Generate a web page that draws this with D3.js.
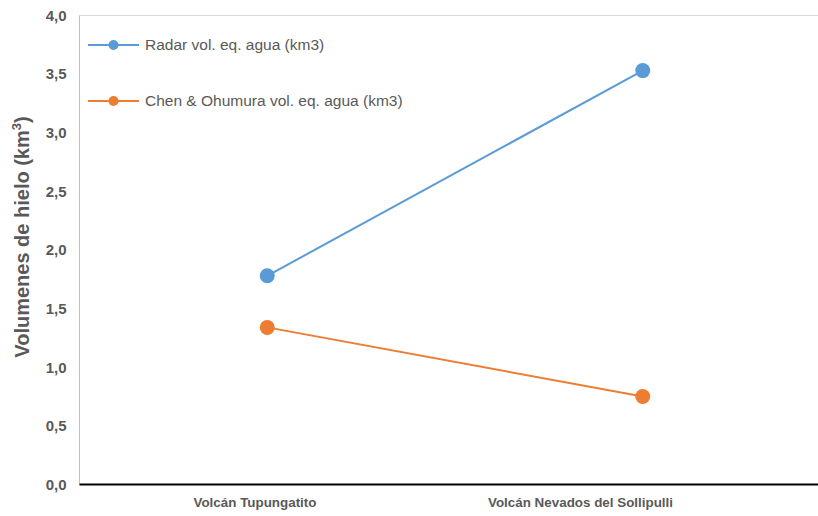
<!DOCTYPE html>
<html>
<head>
<meta charset="utf-8">
<script src="https://cdn.jsdelivr.net/npm/d3@7"></script>
<style>
  html, body { margin: 0; padding: 0; background: #fff; }
  svg { display: block; font-family: Arial, "Liberation Sans", sans-serif; }
</style>
</head>
<body>
<svg id="chart" width="818" height="516"></svg>
<script>
// Volcanoes compared
const categories = ["Volcán Tupungatito", "Volcán Nevados del Sollipulli"];

// Ice volume as water equivalent (km3)
const radarValues = [1.78, 3.53];
const chenValues = [1.34, 0.75];

const seriesNames = ["Radar vol. eq. agua (km3)", "Chen & Ohumura vol. eq. agua (km3)"];
const seriesColors = ["#5B9BD5", "#ED7D31"];

const yTicks = [0, 0.5, 1, 1.5, 2, 2.5, 3, 3.5, 4];

const series = [
  { name: seriesNames[0], color: seriesColors[0], values: radarValues },
  { name: seriesNames[1], color: seriesColors[1], values: chenValues }
];

const svg = d3.select("#chart");
const plot = { left: 79.5, top: 15.5, bottom: 484.5, right: 830.5 };

const x = d3.scaleBand().domain(categories).range([plot.left, plot.right]);
const xLabel = d3.scalePoint().domain(categories).range([255, 580.5]);
const y = d3.scaleLinear().domain([0, 4]).range([plot.bottom, plot.top]);

const fmt = v => d3.format(".1f")(v).replace(".", ",");

// Plot frame: top border and left axis line
svg.append("line")
  .attr("x1", plot.left).attr("x2", plot.right)
  .attr("y1", y(4)).attr("y2", y(4))
  .attr("stroke", "#D9D9D9").attr("stroke-width", 1);
svg.append("line")
  .attr("x1", plot.left).attr("x2", plot.left)
  .attr("y1", plot.top).attr("y2", plot.bottom)
  .attr("stroke", "#BFBFBF").attr("stroke-width", 1);

// Y tick labels
const yAxis = d3.axisLeft(y).tickValues(yTicks).tickFormat(fmt).tickSize(0).tickPadding(13);
const yg = svg.append("g").attr("transform", `translate(${plot.left},0)`).call(yAxis);
yg.select(".domain").remove();
yg.selectAll("text")
  .attr("fill", "#595959")
  .style("font-size", "15px")
  .style("font-weight", "bold");

// X axis baseline
svg.append("line")
  .attr("x1", plot.left).attr("x2", plot.right)
  .attr("y1", y(0)).attr("y2", y(0))
  .attr("stroke", "#000").attr("stroke-width", 2);

// X category labels
svg.selectAll("text.xlab")
  .data(categories)
  .join("text")
  .attr("class", "xlab")
  .attr("x", d => xLabel(d))
  .attr("y", 507)
  .attr("text-anchor", "middle")
  .attr("fill", "#595959")
  .style("font-size", "13.4px")
  .style("font-weight", "bold")
  .text(d => d);

// Y axis title
const yTitle = svg.append("text")
  .attr("transform", "translate(29,237) rotate(-90)")
  .attr("text-anchor", "middle")
  .attr("fill", "#595959")
  .style("font-size", "20px")
  .style("font-weight", "bold");
yTitle.append("tspan").text("Volumenes de hielo (km");
yTitle.append("tspan").text("3").attr("dy", -8).style("font-size", "13px");
yTitle.append("tspan").text(")").attr("dy", 8);

// Series lines and markers
const cx = d => x(d) + x.bandwidth() / 2;
const line = d3.line().x((v, i) => cx(categories[i])).y(v => y(v));

series.forEach(s => {
  svg.append("path")
    .datum(s.values)
    .attr("d", line)
    .attr("fill", "none")
    .attr("stroke", s.color)
    .attr("stroke-width", 2);
  svg.selectAll(null)
    .data(s.values)
    .join("circle")
    .attr("cx", (v, i) => cx(categories[i]))
    .attr("cy", v => y(v))
    .attr("r", 7.5)
    .attr("fill", s.color);
});

// Legend
const legend = svg.append("g");
series.forEach((s, i) => {
  const ly = 45 + i * 56;
  legend.append("line")
    .attr("x1", 88).attr("x2", 139)
    .attr("y1", ly).attr("y2", ly)
    .attr("stroke", s.color).attr("stroke-width", 2);
  legend.append("circle")
    .attr("cx", 113.5).attr("cy", ly).attr("r", 5)
    .attr("fill", s.color);
  legend.append("text")
    .attr("x", 145).attr("y", ly + 5)
    .attr("fill", "#595959")
    .style("font-size", "15.5px")
    .text(s.name);
});
</script>
</body>
</html>
